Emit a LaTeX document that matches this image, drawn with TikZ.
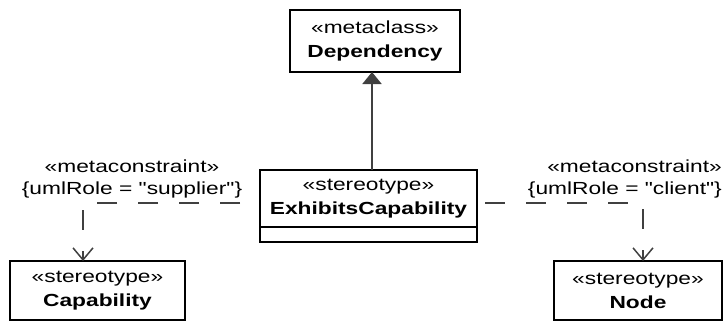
\documentclass[tikz,border=0pt]{standalone}
\usepackage{fontspec}
\setmainfont{Liberation Sans}
\newfontfamily\umlfont[FakeStretch=1.3]{Liberation Sans}
\usetikzlibrary{arrows.meta,positioning}
\definecolor{linegray}{HTML}{404040}
\tikzset{
  every picture/.style={line join=miter, >=Stealth},
  umltext/.style={font=\umlfont\fontsize{17.5}{24}\selectfont, align=center, inner sep=0pt},
  umlclass/.style={umltext, draw, line width=1.6pt, outer sep=0pt},
  gen/.style={linegray, line width=2pt, -{Triangle[length=12pt,width=19pt]}},
  dep/.style={linegray, line width=1.5pt, dash pattern=on 20pt off 21pt, dash phase=21pt, -{Straight Barb[length=12pt,width=20pt]}},
}
\begin{document}
\begin{tikzpicture}[x=1pt,y=-1pt]
\useasboundingbox (0,0) rectangle (724,322);
\node[umlclass, minimum width=170pt, minimum height=62pt] (dependency) at (375,41) {«metaclass»\\\textbf{Dependency}};
\node[umlclass, minimum width=217pt, minimum height=57pt] (exhibits) at (368.5,198.5) {«stereotype»\\\textbf{ExhibitsCapability}};
\node[umlclass, minimum width=217pt, minimum height=15pt, below=0pt of exhibits] (exhibitsattr) {};
\node[umlclass, minimum width=175pt, minimum height=59pt] (capability) at (97.5,290.5) {«stereotype»\\\textbf{Capability}};
\node[umlclass, minimum width=168pt, minimum height=59pt] (node) at (638,290.5) {«stereotype»\\\textbf{Node}};
% constraint labels
\node[umltext, font=\umlfont\fontsize{17.5}{22}\selectfont] (suppliercon) at (132,179) {«metaconstraint»\\\{umlRole = "supplier"\}};
\node[umltext, font=\umlfont\fontsize{17.5}{22}\selectfont, align=right, anchor=east] (clientcon) at (722,179) {«metaconstraint»\\\{umlRole = "client"\}};
% connectors
\draw[gen] ([xshift=3.5pt]exhibits.north) -- ([xshift=3.5pt]exhibits.north |- dependency.south);
\draw[dep] ([yshift=-4.5pt]exhibits.west) -| ([xshift=-14.5pt]capability.north);
\draw[dep, dash phase=33pt] ([yshift=-4.5pt]exhibits.east) -| ([xshift=5pt]node.north);
\end{tikzpicture}
\end{document}
